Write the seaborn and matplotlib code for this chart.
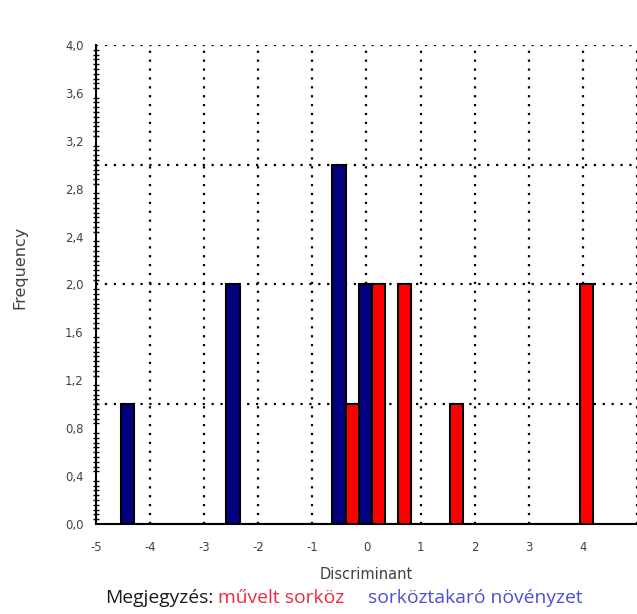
import numpy as np
import pandas as pd
import matplotlib
matplotlib.use('Agg')
import matplotlib.pyplot as plt
import seaborn as sns
from matplotlib.ticker import MultipleLocator, FuncFormatter

# Data (bin centre -> frequency)
cover_x = [-4.42, -2.47, -0.51, -0.02]     # sorköztakaró növényzet (navy)
cover_n = [1, 2, 3, 2]
tilled_x = [-0.26, 0.22, 0.70, 1.66, 4.06]  # művelt sorköz (red)
tilled_n = [1, 2, 2, 1, 2]

x_ticks = [-5, -4, -3, -2, -1, 0, 1, 2, 3, 4]
grid_x = [-4, -3, -2, -1, 0, 1, 2, 3, 4, 5]
grid_y = [1, 2, 3, 4]

sns.set_style('white')
plt.rcParams['font.family'] = ['DejaVu Sans']
plt.rcParams['axes.unicode_minus'] = False

fig = plt.figure(figsize=(6.37, 6.14), dpi=100)
ax = fig.add_axes([0.1507, 0.1466, 0.8493, 0.7801])

# dotted grid behind the bars
for gx in grid_x:
    ax.axvline(gx, color='black', lw=1.6, ls=(0, (1, 3)), zorder=0)
for gy in grid_y:
    ax.axhline(gy, color='black', lw=1.6, ls=(0, (1, 3)), zorder=0)

bw_cover = 0.2445
sns.histplot(x=cover_x, weights=cover_n, binwidth=bw_cover,
             binrange=(-4.544, -4.544 + 19 * bw_cover),
             color='#000080', edgecolor='black', linewidth=1.5, alpha=1,
             ax=ax, zorder=2)
bw_tilled = 0.24
sns.histplot(x=tilled_x, weights=tilled_n, binwidth=bw_tilled,
             binrange=(-0.38, -0.38 + 19 * bw_tilled),
             color='#ff0000', edgecolor='black', linewidth=1.5, alpha=1,
             ax=ax, zorder=2)

ax.set_xlim(-5, 5)
ax.set_ylim(0, 4)
ax.set_xticks(x_ticks)
ax.yaxis.set_major_locator(MultipleLocator(0.4))
ax.yaxis.set_minor_locator(MultipleLocator(0.04))
ax.yaxis.set_major_formatter(FuncFormatter(lambda v, p: f'{v:.1f}'.replace('.', ',')))

for side in ['top', 'right']:
    ax.spines[side].set_visible(False)
for side in ['left', 'bottom']:
    ax.spines[side].set_color('black')
    ax.spines[side].set_linewidth(1.5)
    ax.spines[side].set_zorder(3)

ax.tick_params(axis='both', which='major', direction='out', length=6, width=1.5,
               color='black', labelsize=8.4, labelcolor='#404040')
ax.tick_params(axis='x', which='major', pad=6)
ax.tick_params(axis='y', which='major', pad=3)
ax.tick_params(axis='y', which='minor', direction='inout', length=4, width=1,
               color='black', left=True)

ax.set_xlabel('Discriminant', fontsize=10.5, color='#404040')
ax.set_ylabel('Frequency', fontsize=11.5, color='#404040')
# label positions in axes fraction (axes spans x 96..637, y 45..523 px)
ax.xaxis.set_label_coords(0.5, -0.09)
ax.yaxis.set_label_coords(-0.126, 0.535)

# footer note in three colours
note_font = ['Open Sans', 'DejaVu Sans']
t1 = fig.text(105 / 637, 1 - 598 / 614, 'Megjegyzés:', fontsize=13.9,
              family=note_font, color='#1a1a1a', va='center', ha='left')
t2 = ax.annotate('művelt sorköz', xy=(1, 0.5), xycoords=t1, xytext=(3.5, 0),
                 textcoords='offset points', fontsize=13.9, family=note_font,
                 color='#ee2a3a', va='center', ha='left')
ax.annotate('sorköztakaró növényzet', xy=(1, 0.5), xycoords=t2, xytext=(17, 0),
            textcoords='offset points', fontsize=13.9, family=note_font,
            color='#4a50d2', va='center', ha='left')

fig.savefig('out.png', dpi=100)
